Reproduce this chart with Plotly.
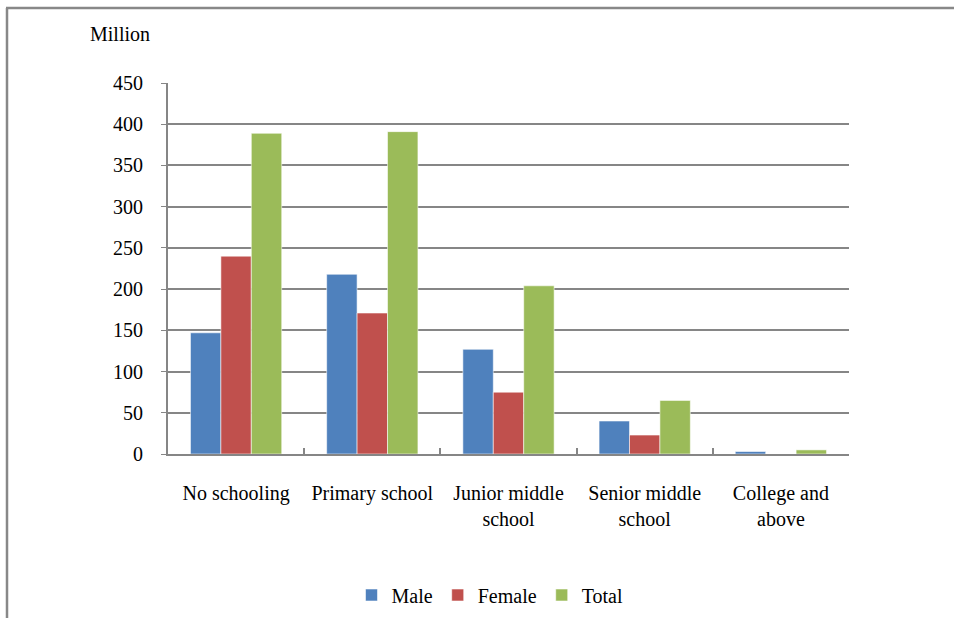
import plotly.graph_objects as go

# Population by educational attainment (million)
categories = ["No schooling", "Primary school", "Junior middle<br>school",
              "Senior middle<br>school", "College and<br>above"]
male = [147, 218, 127, 40, 3]
female = [240, 171, 75, 23, 0]
total = [389, 391, 204, 65, 5]

y_ticks = [0, 50, 100, 150, 200, 250, 300, 350, 400, 450]

FONT = "'Times New Roman', 'Liberation Serif', 'DejaVu Serif', serif"
W, H = 954, 618
L, R, T, B = 168, 105, 83, 164
pw, ph = W - L - R, H - T - B


def px_x(x):
    return (x - L) / pw


def px_y(y):
    return (H - B - y) / ph


series = [("Male", male, "#4F81BD"),
          ("Female", female, "#C0504D"),
          ("Total", total, "#9BBB59")]

fig = go.Figure()
for name, vals, color in series:
    fig.add_trace(go.Bar(
        name=name, x=categories, y=vals,
        marker=dict(color=color, line=dict(color="rgba(255,255,255,0.55)", width=1)),
    ))

fig.update_layout(
    width=W, height=H,
    margin=dict(l=L, r=R, t=T, b=B, autoexpand=False),
    paper_bgcolor="white", plot_bgcolor="white",
    font=dict(family=FONT, size=20, color="black"),
    barmode="group", bargap=0.33, bargroupgap=0,
    showlegend=True,
    legend=dict(orientation="h", x=px_x(490), xanchor="center", y=px_y(595),
                yanchor="middle", font=dict(size=20), itemwidth=30),
    xaxis=dict(showline=True, linecolor="#868686", linewidth=2,
               ticks="inside", ticklen=6, tickcolor="#868686", tickwidth=1.5,
               tickson="boundaries", showgrid=False, ticklabelstandoff=20),
    yaxis=dict(range=[0, 450], tickvals=y_ticks, showline=True,
               linecolor="#868686", linewidth=2, ticks="outside", ticklen=5,
               tickcolor="#868686", showgrid=True, gridcolor="#868686",
               gridwidth=1.5, zeroline=False, ticklabelstandoff=14),
    annotations=[dict(text="Million", xref="paper", yref="paper",
                      x=px_x(88), y=px_y(34), xanchor="left", yanchor="middle",
                      showarrow=False, font=dict(size=20))],
    shapes=[
        dict(type="line", xref="paper", yref="paper", x0=px_x(6), x1=px_x(954),
             y0=px_y(8), y1=px_y(8), line=dict(color="#888888", width=2.5)),
        dict(type="line", xref="paper", yref="paper", x0=px_x(7), x1=px_x(7),
             y0=px_y(8), y1=px_y(618), line=dict(color="#888888", width=2.5)),
    ],
)

fig.write_html("out.html")
